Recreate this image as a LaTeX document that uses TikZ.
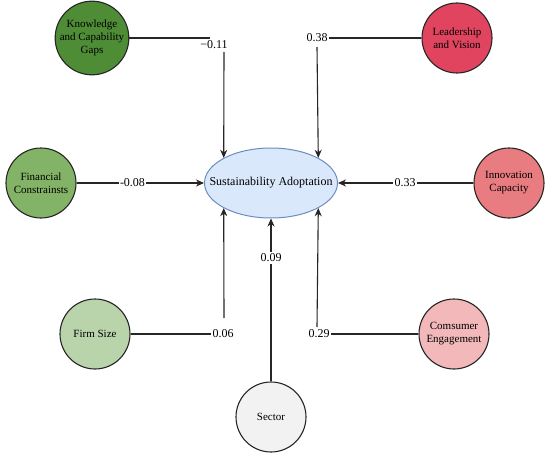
\documentclass[tikz,border=0pt]{standalone}
\usepackage{fontspec}
\setmainfont{Liberation Serif}
\usetikzlibrary{arrows.meta,shapes.geometric}
\definecolor{cK}{HTML}{4E8C36}
\definecolor{cF}{HTML}{82B366}
\definecolor{cFS}{HTML}{B9D3AA}
\definecolor{cL}{HTML}{E0445E}
\definecolor{cI}{HTML}{E87C80}
\definecolor{cC}{HTML}{F2B8BA}
\definecolor{cS}{HTML}{F2F2F2}
\definecolor{cEfill}{HTML}{DAE8FC}
\definecolor{cEdraw}{HTML}{6C8EBF}
\definecolor{cLine}{HTML}{262626}
\begin{document}
\begin{tikzpicture}[x=1pt,y=-1pt,
  factor/.style={circle,draw=cLine,line width=1.1pt,minimum size=70pt,inner sep=0pt,
    align=center,font=\fontsize{11}{13}\selectfont},
  coef/.style={font=\fontsize{12}{14}\selectfont,inner sep=1.5pt},
  coefbg/.style={coef,fill=white},
  link/.style={draw=cLine,line width=1.1pt},
  arrowlink/.style={link,-{Stealth[length=8pt,width=7pt,inset=2.5pt]}}]
\useasboundingbox[fill=white] (0,0) rectangle (550,455);

\node[ellipse,draw=cEdraw,fill=cEfill,line width=1pt,minimum width=133pt,minimum height=70pt,inner sep=0pt,
  font=\fontsize{12}{14}\selectfont] (E) at (271,183) {\makebox[0pt]{Sustainability Adoptation}};

\node[factor,fill=cK] (K) at (92,38) {Knowledge\\and Capability\\Gaps};
\node[factor,fill=cL] (Ld) at (457,38) {Leadership\\and Vision};
\node[factor,fill=cF] (F) at (41,183) {Financial\\Constrainsts};
\node[factor,fill=cI] (I) at (509,183) {Innovation\\Capacity};
\node[factor,fill=cFS] (FS) at (95,334) {Firm Size};
\node[factor,fill=cC] (C) at (454,334) {Comsumer\\Engagement};
\node[factor,fill=cS] (S) at (271,417) {Sector};

% Knowledge
\coordinate (k1) at (210,38);
\coordinate (k2) at (224,52);
\node[coef] (L1) at (214,45) {−0.11};
\draw[link] (K.east) -- (k1);
\draw[arrowlink] (k2) -- (E.152.2);

% Leadership
\node[coef] (L2) at (317,38) {0.38};
\coordinate (l2) at (317,47);
\draw[link] (Ld.west) -- (L2.east);
\draw[arrowlink] (l2) -- (E.28.8);

% Financial
\draw[arrowlink] (F.east) -- (E.west);
\node[coefbg] (L3) at (132.5,183) {-0.08};

% Innovation
\draw[arrowlink] (I.west) -- (E.east);
\node[coefbg] (L4) at (405,183) {0.33};

% Sector
\draw[arrowlink] (S.north) -- (E.south);
\node[coefbg] (L5) at (271,258) {0.09};

% Firm Size
\node[coef] (L6) at (223,334) {0.06};
\coordinate (f6) at (224,318);
\draw[link] (FS.east) -- (L6.west);
\draw[arrowlink] (f6) -- (E.-152.2);

% Consumer
\node[coef] (L7) at (319,334) {0.29};
\coordinate (c7) at (317,327);
\draw[link] (C.west) -- (L7.east);
\draw[arrowlink] (c7) -- (E.-28.8);
\end{tikzpicture}
\end{document}
